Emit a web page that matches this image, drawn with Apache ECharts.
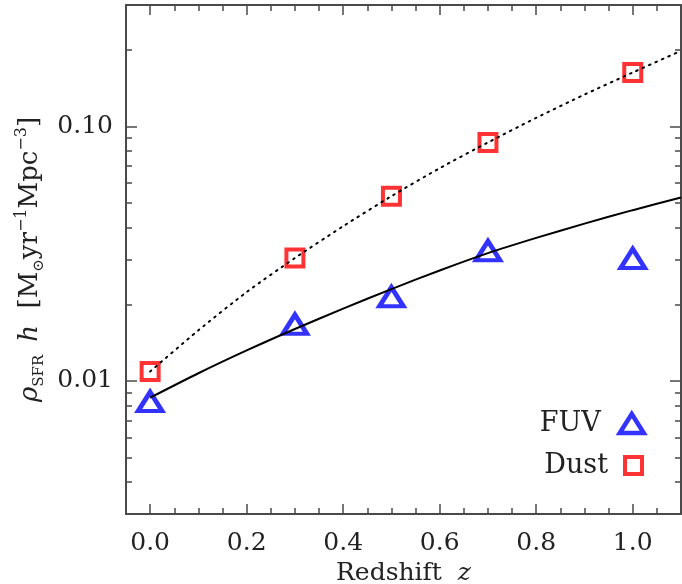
<!DOCTYPE html>
<html>
<head>
<meta charset="utf-8">
<script src="https://cdn.jsdelivr.net/npm/echarts@6/dist/echarts.min.js"></script>
<style>
  html, body { margin: 0; padding: 0; background: #ffffff; }
  #chart { width: 682px; height: 584px; }
</style>
</head>
<body>
<div id="chart"></div>
<script>
// Redshift grid of the model curves
const zGrid = [0.0, 0.1, 0.2, 0.3, 0.4, 0.5, 0.6, 0.7, 0.8, 0.9, 1.0, 1.1];
// Model star-formation-rate density curves (M_sun / yr / Mpc^3, times h)
const fuvCurve  = [0.00859, 0.01072, 0.01318, 0.01600, 0.01923, 0.02296, 0.02716, 0.03177, 0.03648, 0.04150, 0.04688, 0.05260];
const dustCurve = [0.01089, 0.01581, 0.02234, 0.03041, 0.04055, 0.05321, 0.06855, 0.08650, 0.1081, 0.1334, 0.1629, 0.1982];

// Measured points
const obsZ    = [0.0, 0.3, 0.5, 0.7, 1.0];
const fuvObs  = [0.0083, 0.0167, 0.0214, 0.0325, 0.0303];
const dustObs = [0.0109, 0.0304, 0.0532, 0.0865, 0.163];

// Tick positions
const xMajor = [0.0, 0.2, 0.4, 0.6, 0.8, 1.0];
const xMinor = [0.05, 0.1, 0.15, 0.25, 0.3, 0.35, 0.45, 0.5, 0.55, 0.65, 0.7, 0.75, 0.85, 0.9, 0.95, 1.05];
const yMajor = [0.01, 0.1];
const yMinor = [0.004, 0.005, 0.006, 0.007, 0.008, 0.009,
                0.02, 0.03, 0.04, 0.05, 0.06, 0.07, 0.08, 0.09, 0.2];

const FONT = 'DejaVu Serif';
const AXIS_COLOR = '#4a4a4a';
const TEXT_COLOR = '#222222';
const NBSP = '\u00a0';

const pairs = (xs, ys) => xs.map((x, i) => [x, ys[i]]);

function xAxisDef(position, ticks, len, showLine, showLabel) {
  return {
    type: 'value', position: position, min: -0.05, max: 1.1,
    splitLine: { show: false },
    axisLine: { show: showLine, onZero: false, lineStyle: { color: AXIS_COLOR, width: 2 } },
    axisTick: { show: true, inside: true, length: len, customValues: ticks,
                lineStyle: { color: AXIS_COLOR, width: 1.5 } },
    axisLabel: showLabel ? {
      show: true, customValues: xMajor, margin: 17,
      fontFamily: FONT, fontSize: 25, color: TEXT_COLOR,
      formatter: v => v.toFixed(1)
    } : { show: false }
  };
}

function yAxisDef(position, ticks, len, showLine, showLabel) {
  return {
    type: 'log', logBase: 10, position: position, min: 0.003, max: 0.3,
    splitLine: { show: false },
    axisLine: { show: showLine, onZero: false, lineStyle: { color: AXIS_COLOR, width: 2 } },
    axisTick: { show: true, inside: true, length: len, customValues: ticks,
                lineStyle: { color: AXIS_COLOR, width: 1.5 } },
    axisLabel: showLabel ? {
      show: true, customValues: yMajor, margin: 13,
      fontFamily: FONT, fontSize: 25, color: TEXT_COLOR,
      formatter: v => v.toFixed(2)
    } : { show: false }
  };
}

const xBottom = xAxisDef('bottom', xMajor, 10, true, true);
xBottom.name = '{t|Redshift' + NBSP + NBSP + '}{i|z}';
xBottom.nameLocation = 'middle';
xBottom.nameGap = 46;
xBottom.nameTextStyle = {
  rich: {
    t: { fontFamily: FONT, fontSize: 25, color: TEXT_COLOR },
    i: { fontFamily: FONT, fontSize: 25, fontStyle: 'italic', color: TEXT_COLOR }
  }
};

const yLeft = yAxisDef('left', yMajor, 11, true, true);
yLeft.name = '{i|ρ}{sub|SFR' + NBSP + '}{i|' + NBSP + 'h' + NBSP + NBSP + '}{t|[M}{sub|⊙}{t|yr}{sup|−1}{t|Mpc}{sup|−3}{t|]}';
yLeft.nameLocation = 'middle';
yLeft.nameRotate = 90;
yLeft.nameGap = 70;
yLeft.nameTextStyle = {
  rich: {
    t:   { fontFamily: FONT, fontSize: 26, lineHeight: 33, color: TEXT_COLOR },
    i:   { fontFamily: FONT, fontSize: 26, lineHeight: 33, fontStyle: 'italic', color: TEXT_COLOR },
    sub: { fontFamily: FONT, fontSize: 15, lineHeight: 15, verticalAlign: 'bottom', color: TEXT_COLOR },
    sup: { fontFamily: FONT, fontSize: 16, lineHeight: 16, verticalAlign: 'top', color: TEXT_COLOR }
  }
};

const option = {
  backgroundColor: '#ffffff',
  animation: false,
  grid: { left: 126, right: 1, top: 5, bottom: 70, containLabel: false, outerBoundsMode: 'none' },
  xAxis: [
    xBottom,
    xAxisDef('bottom', xMinor, 6, false, false),
    xAxisDef('top', xMajor, 10, true, false),
    xAxisDef('top', xMinor, 6, false, false)
  ],
  yAxis: [
    yLeft,
    yAxisDef('left', yMinor, 6, false, false),
    yAxisDef('right', yMajor, 11, true, false),
    yAxisDef('right', yMinor, 6, false, false)
  ],
  legend: [
    {
      data: [{ name: 'FUV', icon: 'triangle' }],
      orient: 'vertical', align: 'right', right: 31, top: 405,
      itemWidth: 24, itemHeight: 19,
      itemStyle: { color: 'rgba(0,0,0,0)', borderColor: '#0000ff', borderWidth: 4.5 },
      textStyle: { fontFamily: FONT, fontSize: 27, color: TEXT_COLOR, padding: [0, 14, 0, 0] }
    },
    {
      data: [{ name: 'Dust', icon: 'rect' }],
      orient: 'vertical', align: 'right', right: 33, top: 447,
      itemWidth: 17, itemHeight: 17,
      itemStyle: { color: 'rgba(0,0,0,0)', borderColor: '#ff0000', borderWidth: 4 },
      textStyle: { fontFamily: FONT, fontSize: 27, color: TEXT_COLOR, padding: [0, 12, 0, 0] }
    }
  ],
  series: [
    {
      name: 'FUV', type: 'scatter', xAxisIndex: 0, yAxisIndex: 0,
      data: pairs(obsZ, fuvObs),
      symbol: 'triangle', symbolSize: [24, 19],
      itemStyle: { color: 'rgba(0,0,0,0)', borderColor: '#0000ff', borderWidth: 4.5 },
      z: 2
    },
    {
      name: 'Dust', type: 'scatter', xAxisIndex: 0, yAxisIndex: 0,
      data: pairs(obsZ, dustObs),
      symbol: 'rect', symbolSize: 17,
      itemStyle: { color: 'rgba(0,0,0,0)', borderColor: '#ff0000', borderWidth: 4 },
      z: 2
    },
    {
      name: 'FUV model', type: 'line', xAxisIndex: 0, yAxisIndex: 0,
      data: pairs(zGrid, fuvCurve),
      smooth: 0.25, showSymbol: false, symbol: 'none', clip: true,
      lineStyle: { color: '#000000', width: 2 },
      z: 3
    },
    {
      name: 'Dust model', type: 'line', xAxisIndex: 0, yAxisIndex: 0,
      data: pairs(zGrid, dustCurve),
      smooth: 0.25, showSymbol: false, symbol: 'none', clip: true,
      lineStyle: { color: '#000000', width: 2, type: [1.6, 5.4], cap: 'round' },
      z: 3
    }
  ]
};

const chart = echarts.init(document.getElementById('chart'), null, { renderer: 'canvas' });
chart.setOption(option);
</script>
</body>
</html>
